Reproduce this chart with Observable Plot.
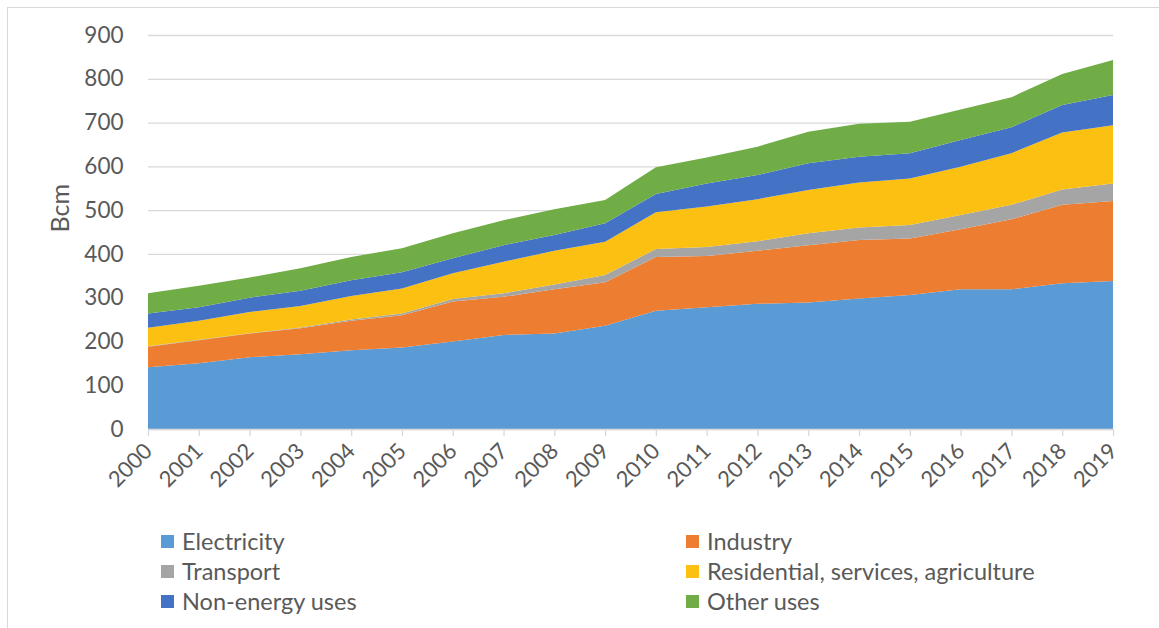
<!DOCTYPE html>
<html>
<head>
<meta charset="utf-8">
<script src="https://cdn.jsdelivr.net/npm/d3@7"></script>
<script src="https://cdn.jsdelivr.net/npm/@observablehq/plot@0.6"></script>
<style>
  html, body { margin: 0; padding: 0; background: #fff; overflow: hidden; }
  #wrap { position: relative; width: 1159px; height: 628px; font-family: Lato, "Open Sans", sans-serif; color: #595959; }
  #frame { position: absolute; left: 7px; top: 7px; width: 1200px; height: 700px; border-left: 1.5px solid #d9d9d9; border-top: 1.5px solid #d9d9d9; box-sizing: border-box; }
  #chart { position: absolute; left: 0; top: 0; }
  .item { position: absolute; display: flex; align-items: center; font-size: 23.5px; white-space: nowrap; height: 28px; }
  .sw { width: 13px; height: 13px; margin-right: 8px; flex: none; }
</style>
</head>
<body>
<div id="wrap">
  <div id="frame"></div>
  <div id="chart"></div>
  <div id="legend"></div>
</div>
<script>
const years = [2000, 2001, 2002, 2003, 2004, 2005, 2006, 2007, 2008, 2009,
               2010, 2011, 2012, 2013, 2014, 2015, 2016, 2017, 2018, 2019];
const seriesNames = ["Electricity", "Industry", "Transport", "Residential, services, agriculture", "Non-energy uses", "Other uses"];
const seriesColors = ["#5B9BD5", "#ED7D31", "#A5A5A5", "#FBC012", "#4472C4", "#70AD47"];

const electricity = [141, 150, 164, 171, 180, 186, 200, 215, 218, 236, 270, 278, 286, 289, 298, 306, 319, 319, 333, 338];
const industry    = [47, 53, 54, 59, 67, 74, 91, 87, 101, 99, 123, 117, 121, 131, 134, 129, 137, 160, 179, 183];
const transport   = [1, 1, 1, 2, 3, 4, 6, 8, 11, 17, 18, 21, 22, 27, 28, 31, 33, 33, 35, 40];
const residential = [42, 43, 48, 49, 54, 57, 59, 72, 77, 76, 84, 92, 96, 99, 103, 106, 110, 118, 130, 133];
const nonEnergy   = [33, 31, 33, 35, 36, 37, 34, 38, 36, 42, 42, 53, 55, 61, 59, 58, 61, 59, 63, 69];
const otherUses   = [46, 49, 46, 51, 53, 55, 57, 57, 59, 53, 61, 59, 65, 72, 75, 72, 70, 69, 71, 80];

const yTicks = [0, 100, 200, 300, 400, 500, 600, 700, 800, 900];

const seriesValues = [electricity, industry, transport, residential, nonEnergy, otherUses];
const data = [];
seriesNames.forEach((name, i) => {
  years.forEach((yr, j) => data.push({year: yr, series: name, value: seriesValues[i][j]}));
});

const chart = Plot.plot({
  width: 1159,
  height: 520,
  marginTop: 35,
  marginLeft: 148,
  marginRight: 46,
  marginBottom: 91,
  style: {fontFamily: "Lato, 'Open Sans', sans-serif", color: "#595959", background: "transparent", overflow: "visible"},
  x: {domain: [2000, 2019]},
  y: {domain: [0, 900]},
  color: {domain: seriesNames, range: seriesColors},
  marks: [
    Plot.ruleY(yTicks, {stroke: "#d9d9d9", strokeWidth: 1.3}),
    Plot.areaY(data, {x: "year", y: "value", fill: "series", order: seriesNames}),
    Plot.ruleY([0], {stroke: "#d9d9d9", strokeWidth: 1.5}),
    Plot.axisX({ticks: years, tickFormat: d => String(d), tickSize: 7, stroke: "#d9d9d9", strokeWidth: 1.3, fill: "#595959",
                tickRotate: -45, tickPadding: 11, fontSize: 22, label: null}),
    Plot.axisY({ticks: yTicks, tickSize: 0, tickPadding: 25, fontSize: 22.5, fill: "#595959", label: null}),
    Plot.text(["Bcm"], {text: d => d, frameAnchor: "left", dx: -88, rotate: -90, fontSize: 25, fill: "#595959"})
  ]
});
document.getElementById("chart").appendChild(chart);

const legend = document.getElementById("legend");
const legendPos = [[161, 541], [686, 541], [161, 571], [686, 571], [161, 601], [686, 601]];
seriesNames.forEach((name, i) => {
  const it = document.createElement("div");
  it.className = "item";
  it.style.left = legendPos[i][0] + "px";
  it.style.top = (legendPos[i][1] - 14) + "px";
  const sw = document.createElement("span");
  sw.className = "sw";
  sw.style.background = seriesColors[i];
  const tx = document.createElement("span");
  tx.textContent = name;
  it.appendChild(sw);
  it.appendChild(tx);
  legend.appendChild(it);
});
</script>
</body>
</html>
